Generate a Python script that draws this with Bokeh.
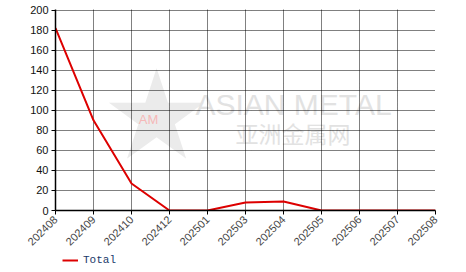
from bokeh.plotting import figure
from bokeh.layouts import column
from bokeh.models import Range1d, FixedTicker, Legend, LegendItem, Label
from bokeh.embed import file_html
from bokeh.resources import INLINE

months = ["202408", "202409", "202410", "202412", "202501", "202503",
          "202504", "202505", "202506", "202507", "202508"]
total = [182, 90, 27, 0, 0, 8, 9, 0, 0, 0, 0]
y_ticks = [0, 20, 40, 60, 80, 100, 120, 140, 160, 180, 200]
series_name = "Total"

xs = list(range(len(months)))

p = figure(width=466, height=252, output_backend="svg", toolbar_location=None,
           x_range=Range1d(0, len(months) - 1), y_range=Range1d(0, 200.6),
           min_border_left=55, min_border_right=31, min_border_top=9,
           min_border_bottom=42)
p.outline_line_color = None
p.background_fill_color = "white"
p.border_fill_color = "white"

# watermark
p.add_layout(Label(x=101, y=96, x_units="screen", y_units="screen",
                   text="★", text_font="DejaVu Sans", text_align="center",
                   text_baseline="middle", level="image",
                   text_font_size="124px", text_color="#ebebeb"))
p.add_layout(Label(x=93, y=91, x_units="screen", y_units="screen",
                   text="AM", text_font="Liberation Sans", text_align="center",
                   text_baseline="middle", level="image",
                   text_font_size="13px", text_color="#f6b8b8"))
p.add_layout(Label(x=140, y=90, x_units="screen", y_units="screen",
                   text="ASIAN METAL", text_font="Liberation Sans",
                   level="image",
                   text_font_size="30px", text_color="#e2e2e2"))
p.add_layout(Label(x=180, y=61, x_units="screen", y_units="screen",
                   text="亚洲金属网", text_font="Noto Sans CJK SC",
                   level="image",
                   text_font_size="23px", text_color="#e2e2e2"))

r = p.line(xs, total, line_color="#dd0000", line_width=2)

p.xaxis.ticker = FixedTicker(ticks=xs)
p.xaxis.major_label_overrides = {i: m for i, m in enumerate(months)}
p.xaxis.major_label_orientation = 0.785
p.yaxis.ticker = FixedTicker(ticks=y_ticks)

for ax in (p.xaxis[0], p.yaxis[0]):
    ax.axis_line_color = "black"
    ax.axis_line_width = 1.5
    ax.major_tick_line_color = "black"
    ax.major_tick_in = 0
    ax.major_tick_out = 4
    ax.minor_tick_line_color = None
    ax.major_label_text_font = "Liberation Sans"
    ax.major_label_text_font_size = "11px"
    ax.major_label_standoff = 3
p.yaxis.major_label_text_color = "#111111"
p.xaxis.major_label_text_color = "#444444"

p.grid.grid_line_color = "black"
p.grid.grid_line_dash = "1 1"
p.grid.grid_line_width = 1

# legend strip below the chart
p2 = figure(width=466, height=20, output_backend="svg", toolbar_location=None,
            x_range=Range1d(0, 1), y_range=Range1d(0, 1),
            min_border_left=0, min_border_right=0, min_border_top=0,
            min_border_bottom=0)
p2.outline_line_color = None
p2.axis.visible = False
p2.grid.visible = False
r2 = p2.line(xs, total, line_color="#dd0000", line_width=2, visible=False)
legend = Legend(items=[LegendItem(label=series_name, renderers=[r2])],
                location=(7, 6), orientation="horizontal",
                label_text_font="Liberation Mono", label_text_font_size="11px",
                label_text_color="#1a3a6a", border_line_color=None,
                background_fill_alpha=0, glyph_width=16, glyph_height=10,
                label_height=10, padding=0, margin=0, spacing=4,
                label_standoff=5)
p2.add_layout(legend)

layout = column(p, p2, spacing=0)
open("out.html", "w").write(file_html(layout, INLINE))
